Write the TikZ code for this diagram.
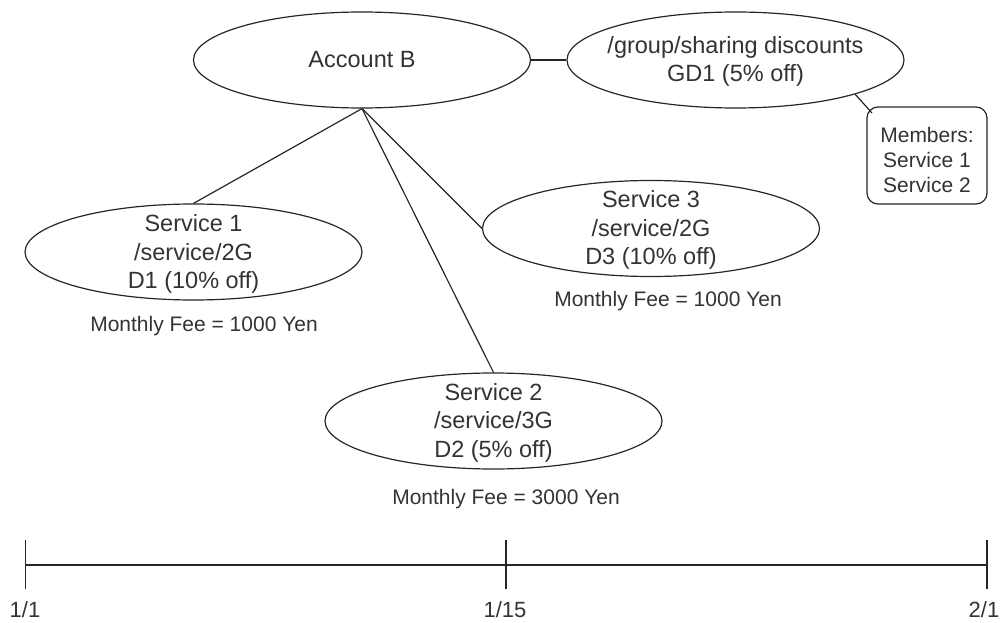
\documentclass[tikz,border=0pt]{standalone}
\usepackage{fontspec}
\setmainfont{Liberation Sans}
\usetikzlibrary{shapes.geometric}

\begin{document}
\begin{tikzpicture}[x=1pt,y=-1pt,
  ink/.style={draw=black!85, line width=1.2pt},
  oval/.style={ink, ellipse, minimum width=337pt, minimum height=96pt, inner sep=0pt},
  lbl/.style={align=center, text=black!80, inner sep=0pt,
              font=\fontsize{23.5}{28.5}\selectfont},
  fee/.style={text=black!80, inner sep=0pt, font=\fontsize{21}{25}\selectfont},
  memberbox/.style={ink, rectangle, rounded corners=11pt,
                    minimum width=120pt, minimum height=97pt, inner sep=0pt},
  tick/.style={ink},
  datelbl/.style={text=black!80, inner sep=0pt, font=\fontsize{22}{26}\selectfont}]
\useasboundingbox (0,0) rectangle (1004,623);

% account and group discount
\node[oval, lbl] (acc) at (362,60) {Account B};
\node[oval] (grp) at (735.5,60) {};
\node[lbl] (grpt) at (735.5,61.5) {/group/sharing discounts\\GD1 (5\% off)};

% group members
\node[memberbox] (mem) at (927,155.5) {};
\node[fee, align=center] (memt) at (927,160) {Members:\\Service 1\\Service 2};

% services
\node[oval] (s1) at (193.5,252) {};
\node[lbl] (s1t) at (193.5,254) {Service 1\\/service/2G\\D1 (10\% off)};
\node[fee] (f1) at (204,326) {Monthly Fee = 1000 Yen};

\node[oval] (s3) at (651,228.5) {};
\node[lbl] (s3t) at (651,230) {Service 3\\/service/2G\\D3 (10\% off)};
\node[fee] (f3) at (668,301) {Monthly Fee = 1000 Yen};

\node[oval] (s2) at (493.5,421) {};
\node[lbl] (s2t) at (493.5,422.5) {Service 2\\/service/3G\\D2 (5\% off)};
\node[fee] (f2) at (506,499) {Monthly Fee = 3000 Yen};

% connectors
\draw[ink] (acc) -- (grp);
\draw[ink] (acc.south) -- (s1.north);
\draw[ink] (acc.south) -- (s2.north);
\draw[ink] (acc.south) -- (s3.west);
\draw[ink] (grp.-16) -- ([shift={(5.5,6.5)}]mem.north west);

% timeline
\coordinate (t0) at (25.5,565);
\coordinate (t1) at (506,565);
\coordinate (t2) at (987,565);
\draw[ink] (t0) -- (t2);
\draw[tick] ([yshift=-24]t0) -- ([yshift=25]t0);
\draw[tick] ([yshift=-24]t1) -- ([yshift=25]t1);
\draw[tick] ([yshift=-24]t2) -- ([yshift=25]t2);
\node[datelbl] (d0) at (25,610) {1/1};
\node[datelbl] (d1) at (505,610) {1/15};
\node[datelbl] (d2) at (984,610) {2/1};
\end{tikzpicture}
\end{document}
